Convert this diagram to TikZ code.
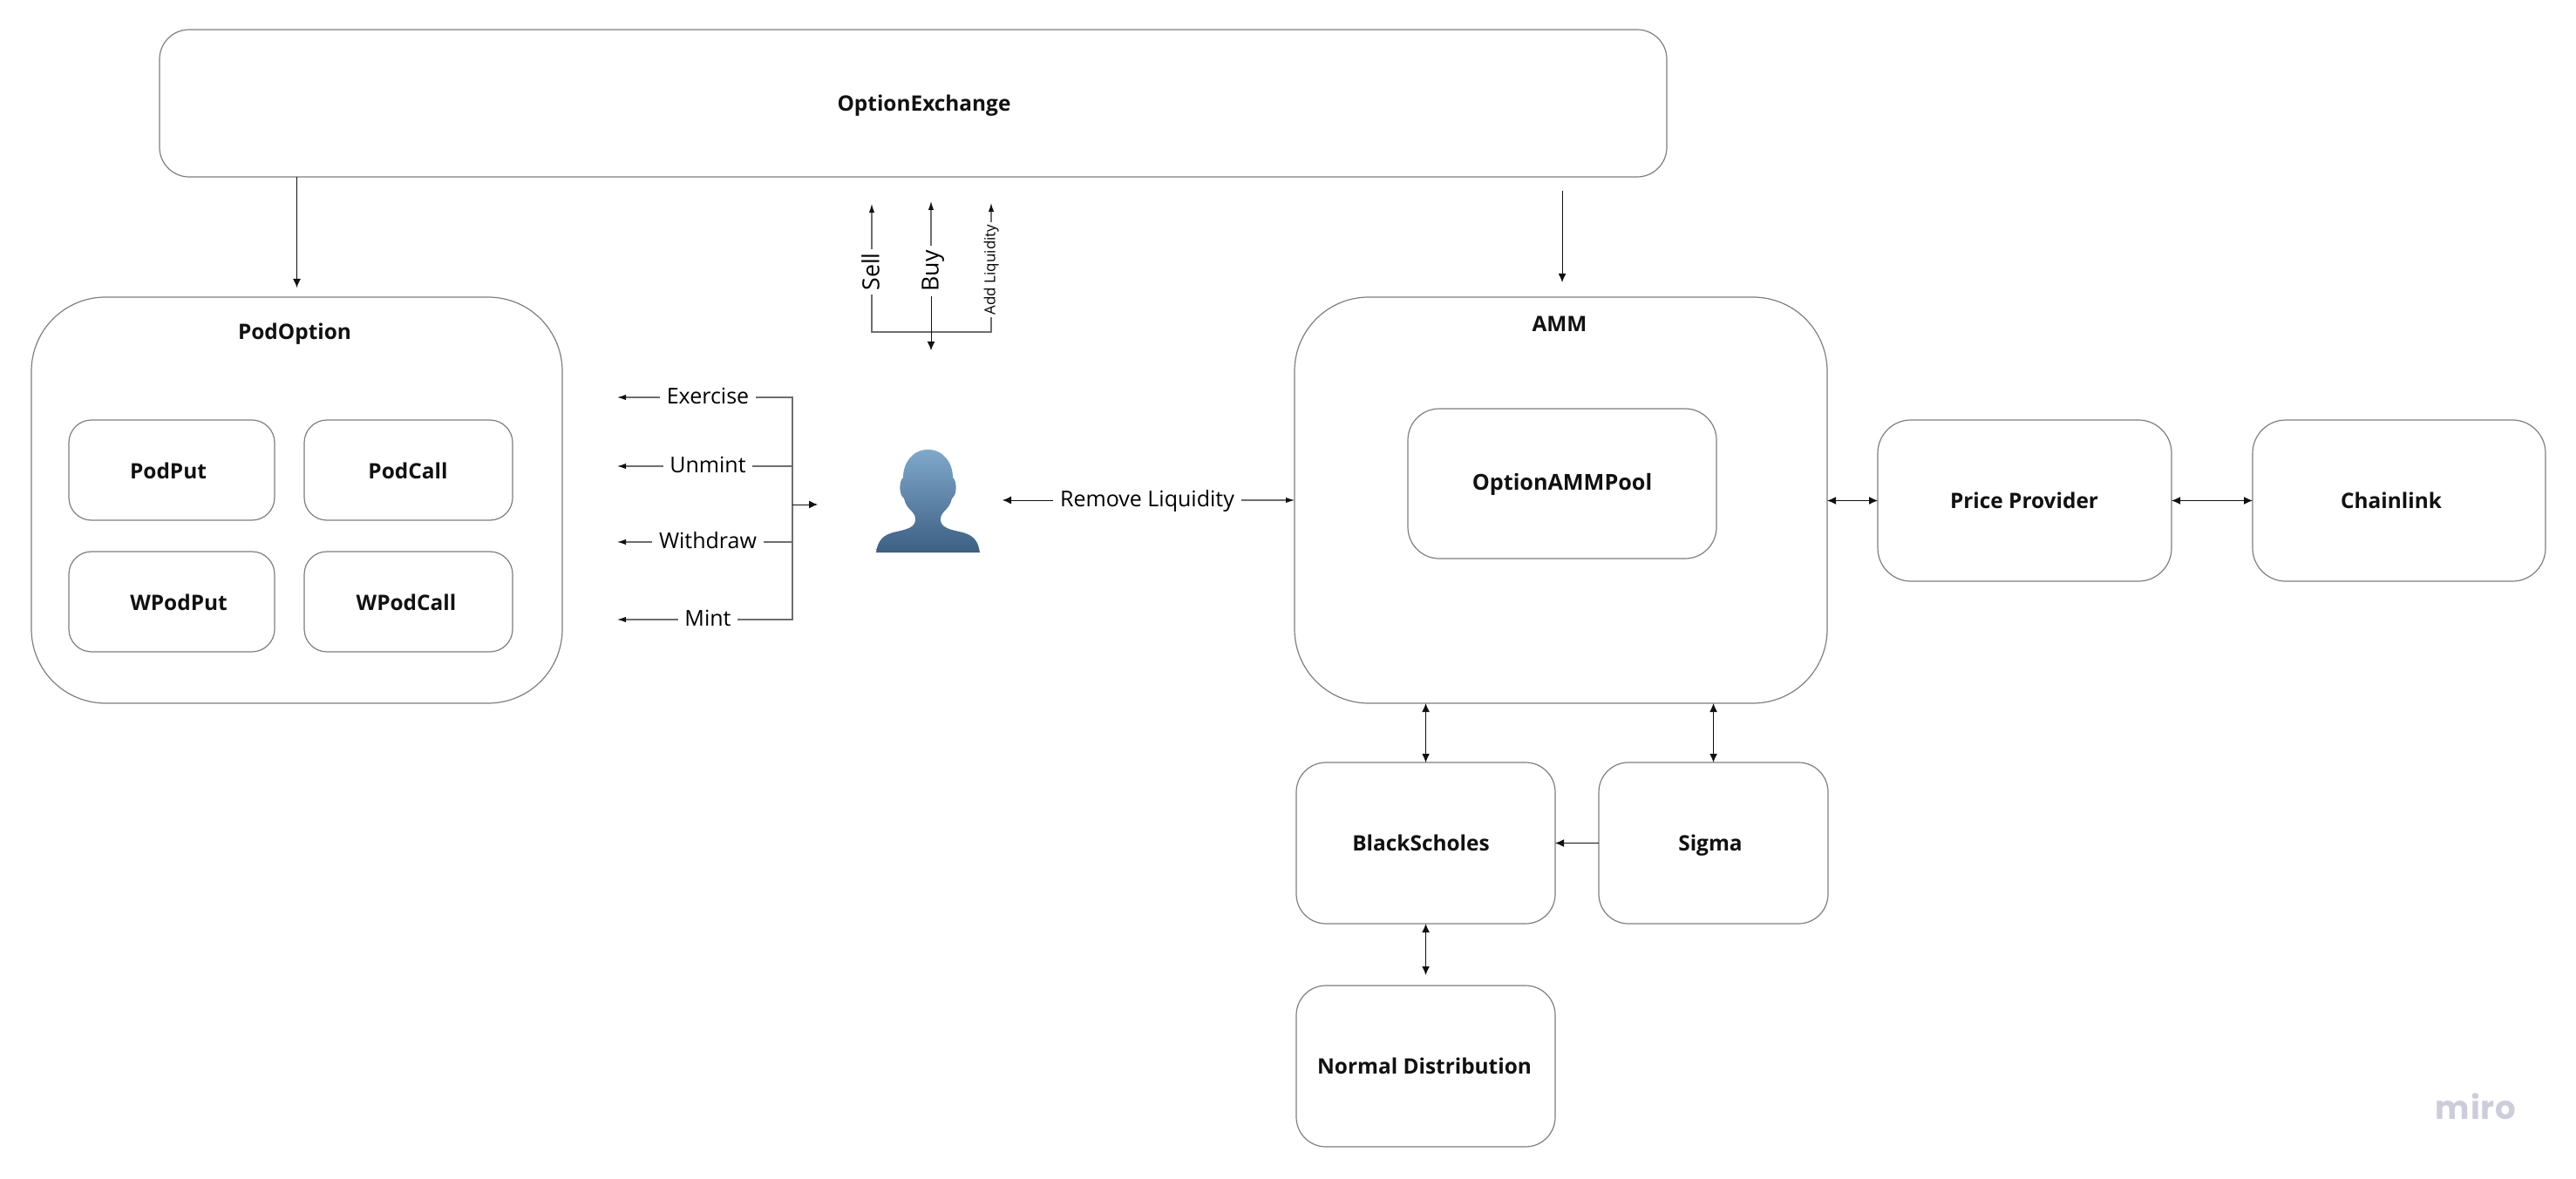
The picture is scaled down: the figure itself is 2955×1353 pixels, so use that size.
\documentclass[tikz,border=0pt]{standalone}
\usepackage{fontspec}
\setmainfont{Open Sans}
\newfontfamily\mirofont{Poppins}
\usetikzlibrary{arrows.meta,calc}
\definecolor{edgegray}{HTML}{7F7F7F}
\definecolor{linegray}{HTML}{6E6E6E}
\definecolor{inkblack}{HTML}{111111}
\definecolor{mirogray}{HTML}{CDCDDA}
\definecolor{persontop}{HTML}{7FA8CA}
\definecolor{personbot}{HTML}{3D5F84}
\tikzset{
  box/.style={draw=edgegray,line width=0.6pt,fill=white,inner sep=0pt,outer sep=0pt},
  title/.style={font=\fontsize{12.2}{15}\selectfont\bfseries,text=inkblack,inner sep=0pt,text height=8.7pt,text depth=0pt},
  lbl/.style={font=\fontsize{12.5}{15}\selectfont,text=black,inner xsep=3.9pt,inner ysep=0pt,text height=9pt,text depth=1.4pt,outer sep=0pt},
  rotlbl/.style={font=\fontsize{13.4}{16}\selectfont,text=black,inner xsep=2pt,inner ysep=0pt,text height=9.5pt,text depth=1pt,outer sep=0pt,rotate=90},
  smalllbl/.style={font=\fontsize{8.5}{10}\selectfont,text=black,inner xsep=1.2pt,inner ysep=0pt,text height=6.5pt,text depth=1.8pt,outer sep=0pt,rotate=90},
  wire/.style={draw=linegray,line width=0.6pt},
  arr/.style={draw=inkblack,line width=0.5pt,-{Latex[length=5pt,width=4.4pt]}},
  tinyarr/.style={draw=linegray,line width=0.6pt,-{Latex[length=5pt,width=3.2pt,color=inkblack]}},
  dbl/.style={draw=inkblack,line width=0.5pt,{Latex[length=5pt,width=4.4pt]}-{Latex[length=5pt,width=4.4pt]}},
}
\newcommand{\boxat}[6]{% name x1 y1 x2 y2 radius
  \pgfmathsetmacro{\bw}{(#4-#2)*0.5}\pgfmathsetmacro{\bh}{(#5-#3)*0.5}\pgfmathsetmacro{\br}{#6*0.5}
  \node[box,rounded corners=\br pt,minimum width=\bw pt,minimum height=\bh pt] (#1) at ({(#2+#4)/2},{(#3+#5)/2}) {};
}
\begin{document}
\begin{tikzpicture}[x=0.5pt,y=-0.5pt]
\useasboundingbox (0,0) rectangle (2955,1353);
\fill[white] (0,0) rectangle (2955,1353);

% boxes
\boxat{ex}{183}{34}{1912}{203}{34}
\boxat{pod}{36}{341}{645}{807}{85}
\boxat{podput}{79}{482}{315}{597}{26}
\boxat{podcall}{349}{482}{588}{597}{26}
\boxat{wpodput}{79}{633}{315}{748}{26}
\boxat{wpodcall}{349}{633}{588}{748}{26}
\boxat{amm}{1485}{341}{2096}{807}{85}
\boxat{pool}{1615}{469}{1969}{641}{36}
\boxat{price}{2154}{482}{2491}{667}{38}
\boxat{chain}{2584}{482}{2920}{667}{38}
\boxat{bs}{1487}{875}{1784}{1060}{34}
\boxat{sigma}{1834}{875}{2097}{1060}{34}
\boxat{normal}{1487}{1131}{1784}{1316}{34}

% box titles
\node[title] (tex) at (1060,119) {OptionExchange};
\node[title] (tpod) at (338,381) {PodOption};
\node[title] (tamm) at (1789,372) {AMM};
\node[title,font=\fontsize{12.6}{15}\selectfont\bfseries] (tpool) at (1792,554) {OptionAMMPool};
\node[title] (tpp) at (193,541) {PodPut};
\node[title] (tpc) at (468,541) {PodCall};
\node[title] (twpp) at (205,692) {WPodPut};
\node[title] (twpc) at (466,692) {WPodCall};
\node[title] (tprice) at (2322,575) {Price Provider};
\node[title] (tchain) at (2743,575) {Chainlink};
\node[title] (tbs) at (1630,968) {BlackScholes};
\node[title] (tsigma) at (1962,968) {Sigma};
\node[title] (tnormal) at (1634,1224) {Normal Distribution};

% person
\shade[top color=persontop,bottom color=personbot]
  (1064.5,516) .. controls (1083,516) and (1093,532) .. (1093,548)
  .. controls (1098,552) and (1098,568) .. (1092,572)
  .. controls (1089,586) and (1079,586) .. (1079,596)
  .. controls (1079,604) and (1086,607) .. (1100,610)
  .. controls (1116,613) and (1122,620) .. (1124,634)
  -- (1005,634)
  .. controls (1007,620) and (1013,613) .. (1029,610)
  .. controls (1043,607) and (1050,604) .. (1050,596)
  .. controls (1050,586) and (1040,586) .. (1037,572)
  .. controls (1031,568) and (1031,552) .. (1036,548)
  .. controls (1036,532) and (1046,516) .. (1064.5,516) -- cycle;
\coordinate (personL) at (938,579);
\coordinate (personR) at (1150,574);

% top connectors
\coordinate (ammtop) at (1792,219);
\draw[arr] (ex.south -| pod.north) -- ([yshift=5.5pt]pod.north);
\draw[arr] (ammtop) -- ($(amm.north -| ammtop)+(0,-17)$);

% sell / buy / add liquidity
\node[rotlbl] (lsell) at (1000,312) {Sell};
\node[rotlbl,inner xsep=2.6pt] (lbuy) at (1068,311) {Buy};
\node[smalllbl] (ladd) at (1137,309.5) {Add Liquidity};
\coordinate (tsell) at (1000,234);
\coordinate (tbuy) at (1068,231);
\coordinate (tadd) at (1137,233);
\coordinate (buyend) at (1068,402);
\coordinate (bl) at (1000,381);
\coordinate (br) at (1137,381);
\draw[tinyarr] (lsell.east) -- (tsell);
\draw[tinyarr] (lbuy.east) -- (tbuy);
\draw[tinyarr] (ladd.east) -- (tadd);
\draw[wire] (lsell.west) -- (bl) -- (br) -- (ladd.west);
\draw[arr] (lbuy.west) -- (buyend);

% left actions
\node[lbl] (lex) at (812,456) {Exercise};
\node[lbl] (lun) at (812,535) {Unmint};
\node[lbl] (lwd) at (812,622) {Withdraw};
\node[lbl] (lmt) at (812,711) {Mint};
\coordinate (tex) at (708,456);
\coordinate (tun) at (708,535);
\coordinate (twd) at (708,622);
\coordinate (tmt) at (708,711);
\coordinate (vtop) at (909,456);
\coordinate (vbot) at (909,711);
\coordinate (vmid) at (909,579);
\draw[tinyarr] (lex.west) -- (tex);
\draw[tinyarr] (lun.west) -- (tun);
\draw[tinyarr] (lwd.west) -- (twd);
\draw[tinyarr] (lmt.west) -- (tmt);
\draw[wire] (lex.east) -- (vtop) -- (vbot) -- (lmt.east);
\draw[wire] (lun.east) -- (lun.east -| vtop);
\draw[wire] (lwd.east) -- (lwd.east -| vtop);
\draw[arr] (vmid) -- (personL);

% remove liquidity
\node[lbl] (lrm) at (1316,574) {Remove Liquidity};
\draw[arr] (lrm.west) -- (personR);
\draw[tinyarr] (lrm.east) -- (amm.west |- lrm.east);

% right side
\draw[dbl] (amm.east |- price.west) -- (price.west);
\draw[dbl] (price.east) -- (chain.west);
\draw[dbl] (amm.south -| bs.north) -- (bs.north);
\draw[dbl] (amm.south -| sigma.north) -- (sigma.north);
\draw[arr] (sigma.west) -- (bs.east);
\draw[dbl] (bs.south) -- ($(bs.south)+(0,59)$);

% watermark
\node[font=\mirofont\bfseries\fontsize{18.6}{21}\selectfont,text=mirogray,inner sep=0pt] (miro) at (2840,1270) {m\kern0.4pt i\kern0.4pt r\kern0.4pt o};
\end{tikzpicture}
\end{document}
